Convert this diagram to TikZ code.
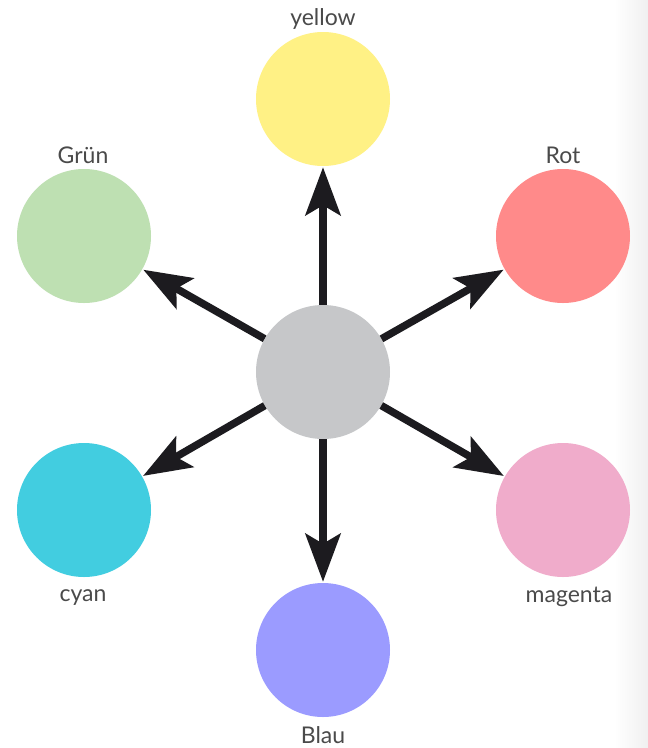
\documentclass[tikz,border=0pt]{standalone}
\usepackage{fontspec}
\setmainfont{Lato}
\usetikzlibrary{arrows.meta}
\definecolor{cYellow}{HTML}{FFF185}
\definecolor{cRot}{HTML}{FF8A8A}
\definecolor{cGruen}{HTML}{BEE0B2}
\definecolor{cCyan}{HTML}{42CDE0}
\definecolor{cMagenta}{HTML}{F0ACCB}
\definecolor{cBlau}{HTML}{9B9BFF}
\definecolor{cHub}{HTML}{C6C7C9}
\definecolor{cArrow}{HTML}{1C1B1F}
\definecolor{cLabel}{HTML}{4A4A4A}
\definecolor{cEdge}{HTML}{F0F0F0}
\tikzset{
  blob/.style={circle, inner sep=0pt, minimum size=134pt, draw=none},
  lbl/.style={text=cLabel, font=\fontsize{23}{26}\selectfont, inner sep=0pt},
  spoke/.style={draw=cArrow, line width=7.5pt,
    -{Stealth[length=48pt, width=35pt, inset=10pt]}, shorten >=1pt},
}
\begin{document}
\begin{tikzpicture}[x=1pt, y=-1pt]
  \useasboundingbox (0,0) rectangle (648,748);
  \fill[white] (0,0) rectangle (648,748);
  \shade[left color=white, right color=cEdge] (614,0) rectangle (648,748);

  % colour circles
  \node[blob, fill=cHub]     (hub)  at (323,372) {};
  \node[blob, fill=cYellow]  (yel)  at (323,99)  {};
  \node[blob, fill=cRot]     (rot)  at (563,236) {};
  \node[blob, fill=cGruen]   (gru)  at (84,236)  {};
  \node[blob, fill=cCyan]    (cya)  at (84,510)  {};
  \node[blob, fill=cMagenta] (mag)  at (563,510) {};
  \node[blob, fill=cBlau]    (bla)  at (323,650) {};

  % spokes from the grey hub
  \foreach \t in {yel,rot,gru,cya,mag,bla}
    \draw[spoke] (hub) -- (\t);

  % labels
  \node[lbl] (lyel) at (323,19)  {yellow};
  \node[lbl] (lrot) at (563,155) {Rot};
  \node[lbl] (lgru) at (83,155)  {Grün};
  \node[lbl] (lcya) at (83,598)  {cyan};
  \node[lbl] (lmag) at (569,597) {magenta};
  \node[lbl] (lbla) at (323,735) {Blau};
\end{tikzpicture}
\end{document}
